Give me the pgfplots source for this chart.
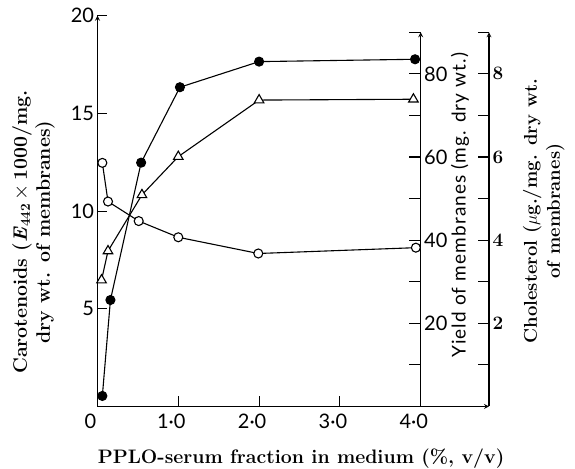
\documentclass[border=0pt]{standalone}
\usepackage{fontspec}
\usepackage{pgfplots}
\pgfplotsset{compat=1.18}
\newfontfamily\sansf{Lato}

\pgfplotstableread{
x y
0.06 0.54
0.16 5.45
0.54 12.48
1.02 16.34
2.00 17.65
3.93 17.77
}\carot
\pgfplotstableread{
x y
0.05 30.4
0.13 37.4
0.55 50.9
1.00 60.1
2.00 73.7
3.91 73.9
}\yield
\pgfplotstableread{
x y
0.06 5.86
0.13 4.93
0.51 4.46
1.00 4.07
1.99 3.68
3.94 3.82
}\chol

\begin{document}
\begin{tikzpicture}
\pgfplotsset{every axis/.append style={scale only axis, clip=false,
  axis line style={-, line width=1.2pt}, every tick/.style={line width=1.1pt, black},
  /pgf/number format/assume math mode=true,
  tick label style={font=\sansf\fontsize{20}{22}\selectfont}}}
\begin{axis}[name=main, width=391.5pt, height=390.8pt,
  xmin=0, xmax=4.845, ymin=0, ymax=20,
  axis x line=bottom, axis y line=left,
  tick align=inside, major tick length=10pt,
  xtick={0,1,2,3,4}, xticklabels={0,1·0,2·0,3·0,4·0},
  xticklabel style={xshift=-7pt, yshift=-4pt},
  ytick={5,10,15,20},
]
\addplot[black, line width=1.1pt, mark=*, mark size=4.5pt, mark options={fill=black}] table[x=x,y=y] {\carot};
\node[rotate=90, align=center, font=\bfseries\fontsize{19.5}{23}\selectfont] at (axis description cs:-0.1635,0.4465)
  {Carotenoids (\textit{E}\textsubscript{442}\,$\times$\,1000/mg.\\dry wt. of membranes)};
\node[rotate=90, align=center, font=\bfseries\fontsize{18.5}{23}\selectfont] at (axis description cs:1.14,0.50)
  {Cholesterol ($\mu$g./mg. dry wt.\\of membranes)};
\node[rotate=90, font=\sansf\fontsize{19}{20}\selectfont\addfontfeatures{LetterSpace=6}] at (axis description cs:0.926,0.515)
  {Yield of membranes (mg. dry wt.)};
\node[font=\bfseries\fontsize{19.5}{20}\selectfont] at (axis description cs:0.52,-0.134)
  {PPLO-serum fraction in medium (\%, v/v)};
\end{axis}
\begin{axis}[width=323.2pt, height=374.2pt,
  xmin=0, xmax=4, ymin=0, ymax=90,
  axis x line=none, axis y line=right,
  tick align=inside, major tick length=12pt,
  ytick={10,20,...,90}, yticklabels={,20,,40,,60,,80,},
]
\addplot[black, line width=1.1pt, mark=triangle*, mark size=5.5pt, mark options={fill=white}] table[x=x,y=y] {\yield};
\end{axis}
\begin{axis}[width=391.5pt, height=374.2pt,
  xmin=0, xmax=4.845, ymin=0, ymax=9,
  axis x line=none, axis y line=right,
  tick align=inside, major tick length=11pt,
  ytick={1,2,...,9}, yticklabels={,2,,4,,6,,8,},
  yticklabel style={font=\bfseries\fontsize{19}{20}\selectfont},
]
\addplot[black, line width=1.1pt, mark=*, mark size=4.5pt, mark options={fill=white}] table[x=x,y=y] {\chol};
\end{axis}
\pgfresetboundingbox
\path[use as bounding box] ([xshift=-97.5pt,yshift=-62.5pt]main.south west) rectangle ([xshift=86pt,yshift=15.7pt]main.north east);
\end{tikzpicture}
\end{document}
